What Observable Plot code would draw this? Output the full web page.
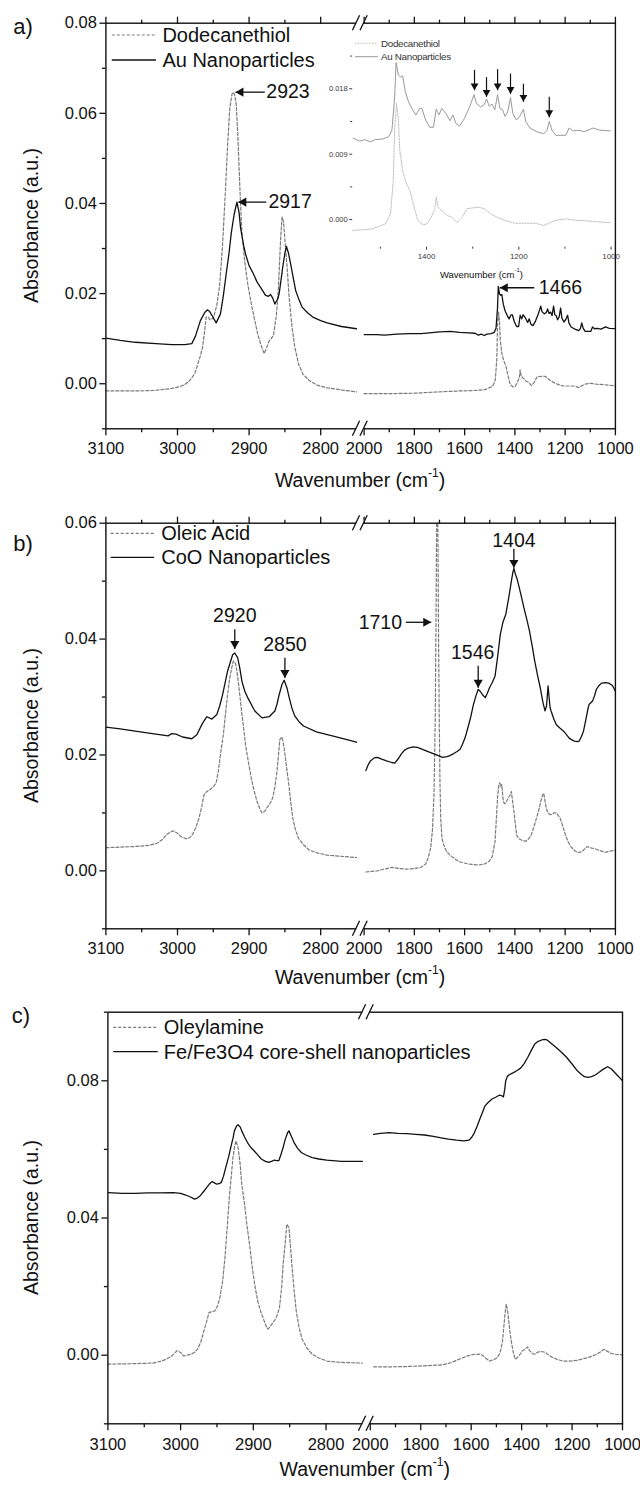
<!DOCTYPE html>
<html><head><meta charset="utf-8">
<script src="https://cdn.jsdelivr.net/npm/d3@7"></script>
<script src="https://cdn.jsdelivr.net/npm/@observablehq/plot@0.6"></script>
<style>
body{margin:0;background:#fff;}
#wrap{position:relative;width:640px;height:1487px;overflow:hidden;}
#wrap svg{position:absolute;left:0;}
</style></head><body><div id="wrap"></div>
<script>
// ---------------- DATA ----------------
const xMajorTicks = [3100, 3000, 2900, 2800, 2000, 1800, 1600, 1400, 1200, 1000];
const xMinorTicks = [3050, 2950, 2850, 1900, 1700, 1500, 1300, 1100];

// Panel a : Dodecanethiol (dashed) and Au nanoparticles (solid)
const aDdtWn = [3100,3060,3033,3010,2998,2990,2983,2976,2973,2968,2965,2962,2960,2957,2955,2950,2945,2941,2937,2933,2930,2927,2924,2922,2920,2918,2916,2914,2912,2910,2906,2902,2897,2892,2888,2884,2879,2876,2872,2869,2866,2862,2859,2856,2854,2852,2850,2847,2844,2840,2836,2831,2825,2816,2805,2791,2770,2750,
  2000,1900,1800,1700,1620,1559,1519,1489,1478,1472,1469,1465,1461,1458,1452,1445,1436,1429,1419,1408,1399,1390,1382,1379,1375,1368,1356,1345,1334,1323,1312,1301,1286,1275,1261,1246,1231,1209,1187,1165,1146,1135,1120,1098,1076,1046,1011,1000];
const aDdtAbs = [-0.0016,-0.0016,-0.0015,-0.0011,-0.0007,-0.0002,0.0007,0.0022,0.0037,0.0062,0.0081,0.0118,0.0148,0.0148,0.0142,0.0145,0.0175,0.0220,0.0310,0.0430,0.0530,0.0610,0.0642,0.0647,0.0640,0.0620,0.0560,0.0480,0.0400,0.0335,0.0270,0.0222,0.0178,0.0140,0.0110,0.0089,0.0067,0.0078,0.0095,0.0100,0.0108,0.0150,0.0214,0.0320,0.0370,0.0360,0.0320,0.0260,0.0190,0.0125,0.0080,0.0044,0.0022,0.0007,-0.0003,-0.0009,-0.0014,-0.0018,
  -0.0022,-0.0022,-0.0021,-0.0018,-0.0016,-0.0015,-0.0013,-0.0006,0.0008,0.0054,0.0128,0.0160,0.0137,0.0096,0.0068,0.0052,0.0040,0.0022,-0.0001,-0.0007,-0.0006,0.0003,0.0015,0.0031,0.0017,0.0013,0.0006,0.0003,-0.0004,0.0003,0.0015,0.0016,0.0017,0.0015,0.0008,0.0003,-0.0001,-0.0005,-0.0005,-0.0005,-0.0008,-0.0005,-0.0001,0.0001,-0.0001,-0.0002,-0.0004,-0.0004];
const aAuWn = [3100,3080,3059,3030,3008,2990,2980,2975,2968,2962,2958,2955,2952,2946,2940,2936,2932,2928,2925,2921,2917,2914,2912,2908,2905,2900,2894,2889,2884,2877,2873,2870,2867,2864,2860,2858,2855,2853,2850,2848,2845,2842,2838,2835,2830,2826,2818,2811,2800,2791,2771,2750,
  2000,1950,1919,1870,1820,1773,1740,1700,1656,1620,1583,1559,1545,1534,1522,1511,1495,1482,1475,1469,1466,1461,1456,1452,1446,1439,1430,1423,1415,1410,1402,1393,1385,1379,1373,1367,1358,1349,1343,1336,1328,1318,1306,1297,1292,1283,1275,1270,1264,1258,1252,1246,1241,1235,1230,1224,1218,1213,1205,1198,1190,1185,1176,1161,1146,1139,1134,1128,1120,1098,1091,1083,1072,1058,1039,1024,1000];
const aAuAbs = [0.0101,0.0096,0.0092,0.0089,0.0087,0.0087,0.0089,0.0105,0.0140,0.0158,0.0164,0.0160,0.0152,0.0135,0.0155,0.0195,0.0244,0.0290,0.0333,0.0375,0.0403,0.0380,0.0347,0.0310,0.0288,0.0262,0.0244,0.0226,0.0214,0.0196,0.0194,0.0198,0.0190,0.0177,0.0188,0.0200,0.0235,0.0259,0.0290,0.0305,0.0290,0.0266,0.0232,0.0207,0.0185,0.0170,0.0157,0.0148,0.0140,0.0135,0.0127,0.0122,
  0.0109,0.0109,0.0108,0.0110,0.0111,0.0111,0.0113,0.0115,0.0116,0.0114,0.0113,0.0112,0.0108,0.0110,0.0107,0.0110,0.0111,0.0114,0.0123,0.0169,0.0216,0.0199,0.0196,0.0198,0.0176,0.0162,0.0151,0.0144,0.0153,0.0153,0.0137,0.0127,0.0127,0.0152,0.0144,0.0153,0.0146,0.0136,0.0144,0.0132,0.0129,0.0139,0.0156,0.0172,0.0160,0.0155,0.0158,0.0166,0.0156,0.0159,0.0151,0.0172,0.0153,0.0151,0.0142,0.0148,0.0168,0.0146,0.0137,0.0142,0.0152,0.0135,0.0126,0.0121,0.0118,0.0123,0.0135,0.0123,0.0116,0.0116,0.0126,0.0122,0.0123,0.0121,0.0126,0.0123,0.0122];
const aAnnLabel = ["2923", "2917", "1466"];
const aAnnTipX = [2919, 2915, 1460];
const aAnnTailX = [2878, 2876, 1323];
const aAnnTextX = [2876, 2873, 1305];
const aAnnY = [0.0647, 0.0403, 0.0213];

// Inset (panel a, 1560-1000 cm-1)
const insetArrowX = [1296, 1270, 1246, 1218, 1190, 1134];
const insetArrowTip = [0.0178, 0.0169, 0.0178, 0.0173, 0.0162, 0.0141];
const insetArrowTop = [0.0206, 0.0196, 0.0207, 0.0201, 0.0187, 0.0169];

// Panel b : Oleic acid (dashed) and CoO nanoparticles (solid)
const bOaWn = [3100,3059,3040,3028,3020,3016,3010,3006,3000,2995,2987,2982,2978,2974,2970,2966,2963,2959,2955,2950,2946,2943,2940,2936,2933,2930,2927,2924,2922,2919,2917,2914,2911,2908,2905,2901,2897,2893,2889,2885,2882,2878,2874,2870,2867,2864,2861,2859,2857,2854,2851,2848,2845,2842,2839,2835,2831,2824,2816,2805,2791,2770,2750,
  1993,1970,1947,1920,1889,1860,1832,1800,1774,1755,1745,1735,1728,1722,1717,1714,1712,1709,1706,1704,1701,1698,1695,1690,1683,1677,1671,1660,1652,1640,1623,1605,1587,1565,1544,1520,1501,1490,1479,1473,1469,1464,1460,1456,1452,1448,1446,1441,1436,1431,1426,1420,1414,1409,1404,1398,1393,1385,1378,1367,1357,1346,1335,1325,1314,1305,1297,1290,1285,1280,1275,1271,1263,1256,1245,1235,1228,1220,1210,1199,1188,1177,1165,1153,1144,1134,1122,1112,1102,1091,1080,1069,1055,1040,1020,1000];
const bOaAbs = [0.0040,0.0042,0.0044,0.0048,0.0055,0.0062,0.0067,0.0069,0.0065,0.0059,0.0055,0.0058,0.0065,0.0076,0.0091,0.0112,0.0131,0.0137,0.0140,0.0145,0.0152,0.0172,0.0201,0.0235,0.0270,0.0305,0.0333,0.0352,0.0362,0.0358,0.0345,0.0315,0.0281,0.0250,0.0218,0.0188,0.0160,0.0138,0.0120,0.0107,0.0100,0.0103,0.0111,0.0118,0.0126,0.0145,0.0172,0.0200,0.0227,0.0231,0.0212,0.0182,0.0154,0.0120,0.0091,0.0070,0.0056,0.0045,0.0036,0.0031,0.0027,0.0025,0.0023,
  -0.0002,-0.0001,0.0000,0.0003,0.0006,0.0004,0.0003,0.0004,0.0006,0.0012,0.0022,0.0040,0.0070,0.0130,0.0260,0.0420,0.0560,0.0700,0.0560,0.0420,0.0260,0.0150,0.0090,0.0055,0.0045,0.0038,0.0033,0.0028,0.0025,0.0021,0.0016,0.0014,0.0012,0.0011,0.0010,0.0012,0.0017,0.0025,0.0051,0.0095,0.0126,0.0148,0.0152,0.0145,0.0149,0.0128,0.0120,0.0116,0.0117,0.0122,0.0126,0.0130,0.0137,0.0120,0.0103,0.0080,0.0062,0.0056,0.0054,0.0052,0.0051,0.0055,0.0062,0.0075,0.0091,0.0105,0.0120,0.0130,0.0134,0.0120,0.0108,0.0103,0.0098,0.0097,0.0100,0.0100,0.0096,0.0091,0.0078,0.0062,0.0050,0.0042,0.0036,0.0032,0.0032,0.0033,0.0038,0.0042,0.0040,0.0039,0.0038,0.0036,0.0034,0.0032,0.0034,0.0036];
const bCoWn = [3100,3080,3059,3035,3013,3008,3002,2993,2980,2973,2965,2959,2952,2945,2941,2937,2930,2923,2920,2916,2913,2910,2906,2902,2892,2882,2872,2864,2861,2858,2854,2851,2847,2844,2840,2836,2830,2824,2806,2781,2750,
  1993,1985,1976,1960,1947,1930,1911,1890,1878,1865,1853,1840,1824,1805,1788,1770,1753,1735,1717,1700,1688,1670,1659,1645,1630,1618,1609,1598,1587,1576,1565,1555,1546,1538,1529,1518,1510,1501,1490,1479,1470,1458,1447,1436,1425,1414,1408,1404,1398,1392,1386,1375,1364,1353,1342,1331,1321,1310,1299,1288,1280,1274,1268,1264,1260,1256,1245,1235,1220,1206,1195,1184,1173,1163,1150,1144,1135,1127,1118,1110,1105,1098,1091,1083,1076,1065,1055,1040,1026,1012,1000];
const bCoAbs = [0.0248,0.0245,0.0241,0.0237,0.0233,0.0237,0.0236,0.0231,0.0228,0.0235,0.0255,0.0266,0.0262,0.0270,0.0285,0.0304,0.0345,0.0373,0.0376,0.0368,0.0350,0.0327,0.0310,0.0299,0.0276,0.0264,0.0266,0.0276,0.0288,0.0304,0.0322,0.0329,0.0315,0.0299,0.0280,0.0267,0.0257,0.0250,0.0240,0.0232,0.0222,
  0.0173,0.0182,0.0189,0.0195,0.0196,0.0193,0.0190,0.0187,0.0186,0.0193,0.0201,0.0208,0.0212,0.0214,0.0213,0.0210,0.0207,0.0204,0.0201,0.0198,0.0196,0.0197,0.0199,0.0202,0.0206,0.0210,0.0218,0.0230,0.0247,0.0265,0.0287,0.0302,0.0313,0.0310,0.0304,0.0299,0.0306,0.0316,0.0325,0.0336,0.0365,0.0408,0.0430,0.0443,0.0470,0.0500,0.0515,0.0522,0.0512,0.0505,0.0495,0.0475,0.0454,0.0435,0.0414,0.0388,0.0362,0.0338,0.0316,0.0290,0.0276,0.0285,0.0319,0.0300,0.0282,0.0276,0.0262,0.0252,0.0246,0.0241,0.0235,0.0229,0.0226,0.0224,0.0223,0.0224,0.0232,0.0241,0.0260,0.0278,0.0287,0.0290,0.0293,0.0302,0.0313,0.0320,0.0324,0.0325,0.0324,0.0320,0.0310];
const bAnnLabel = ["2920", "2850", "1404", "1546"];
const bAnnX = [2920, 2850, 1404, 1546];
const bAnnTextX = [2920, 2850, 1404, 1568];
const bAnnTipY = [0.0383, 0.0333, 0.0523, 0.0316];
const bAnnTailY = [0.0417, 0.0368, 0.0556, 0.0354];
const bAnnTextY = [0.0440, 0.0391, 0.0570, 0.0377];
const bSideLabel = ["1710"];
const bSideTipX = [1733];
const bSideTailX = [1834];
const bSideTextX = [1849];
const bSideY = [0.0429];

// Panel c : Oleylamine (dashed) and Fe/Fe3O4 core-shell nanoparticles (solid)
const cOlWn = [3100,3070,3038,3028,3020,3012,3005,3000,2996,2991,2986,2981,2977,2972,2968,2964,2961,2957,2953,2949,2946,2942,2939,2936,2933,2930,2928,2926,2924,2921,2918,2916,2912,2909,2905,2902,2898,2894,2890,2886,2883,2880,2877,2874,2870,2868,2864,2861,2859,2856,2854,2851,2849,2847,2844,2841,2837,2833,2826,2819,2810,2799,2780,2750,
  1987,1920,1855,1785,1714,1680,1658,1635,1615,1590,1566,1555,1545,1528,1510,1497,1488,1482,1476,1472,1466,1461,1456,1451,1445,1439,1432,1425,1418,1411,1404,1397,1386,1376,1369,1362,1355,1348,1338,1327,1316,1306,1292,1277,1256,1235,1207,1179,1158,1137,1118,1101,1087,1073,1059,1045,1022,1000];
const cOlAbs = [-0.0026,-0.0025,-0.0023,-0.0018,-0.0012,-0.0002,0.0013,0.0008,-0.0002,0.0000,0.0003,0.0008,0.0017,0.0040,0.0071,0.0100,0.0124,0.0127,0.0129,0.0145,0.0168,0.0220,0.0285,0.0370,0.0460,0.0530,0.0576,0.0605,0.0625,0.0606,0.0555,0.0499,0.0440,0.0382,0.0320,0.0265,0.0205,0.0158,0.0128,0.0105,0.0088,0.0076,0.0083,0.0092,0.0104,0.0112,0.0139,0.0200,0.0265,0.0330,0.0382,0.0372,0.0320,0.0265,0.0190,0.0129,0.0080,0.0047,0.0020,0.0003,-0.0008,-0.0017,-0.0021,-0.0023,
  -0.0034,-0.0034,-0.0033,-0.0031,-0.0028,-0.0022,-0.0015,-0.0008,-0.0002,0.0002,0.0003,0.0000,-0.0007,-0.0017,-0.0013,-0.0007,0.0003,0.0017,0.0040,0.0071,0.0120,0.0149,0.0130,0.0100,0.0060,0.0032,0.0005,-0.0012,-0.0008,-0.0002,0.0005,0.0013,0.0018,0.0024,0.0014,0.0008,0.0004,0.0003,0.0008,0.0011,0.0010,0.0008,0.0000,-0.0007,-0.0013,-0.0017,-0.0017,-0.0015,-0.0011,-0.0007,-0.0002,0.0003,0.0010,0.0017,0.0011,0.0005,0.0002,0.0001];
const cFeWn = [3100,3080,3063,3045,3028,3010,3000,2993,2987,2981,2977,2973,2968,2964,2960,2957,2954,2951,2947,2944,2941,2938,2934,2931,2928,2926,2923,2921,2918,2916,2912,2908,2904,2899,2894,2889,2884,2879,2875,2871,2868,2865,2862,2859,2856,2853,2851,2848,2844,2839,2834,2827,2819,2810,2799,2779,2750,
  1987,1960,1925,1890,1855,1820,1785,1750,1714,1690,1658,1630,1608,1597,1587,1576,1566,1555,1545,1531,1517,1503,1489,1480,1472,1467,1463,1458,1454,1443,1432,1418,1404,1390,1376,1362,1348,1334,1320,1310,1299,1281,1263,1242,1221,1200,1179,1165,1151,1137,1123,1108,1094,1076,1059,1045,1031,1015,1000];
const cFeAbs = [0.0474,0.0472,0.0472,0.0473,0.0473,0.0474,0.0472,0.0467,0.0462,0.0455,0.0458,0.0465,0.0478,0.0489,0.0500,0.0506,0.0503,0.0499,0.0500,0.0504,0.0522,0.0547,0.0578,0.0606,0.0632,0.0654,0.0668,0.0672,0.0665,0.0654,0.0636,0.0620,0.0607,0.0596,0.0584,0.0572,0.0566,0.0562,0.0565,0.0569,0.0567,0.0567,0.0585,0.0606,0.0630,0.0648,0.0654,0.0640,0.0620,0.0603,0.0591,0.0583,0.0576,0.0572,0.0569,0.0565,0.0565,
  0.0644,0.0647,0.0649,0.0647,0.0646,0.0644,0.0642,0.0638,0.0633,0.0630,0.0627,0.0625,0.0627,0.0636,0.0649,0.0668,0.0688,0.0708,0.0727,0.0738,0.0747,0.0752,0.0758,0.0757,0.0753,0.0775,0.0800,0.0810,0.0815,0.0820,0.0824,0.0830,0.0837,0.0850,0.0868,0.0888,0.0907,0.0915,0.0919,0.0921,0.0919,0.0908,0.0897,0.0883,0.0868,0.0849,0.0829,0.0820,0.0812,0.0810,0.0812,0.0817,0.0824,0.0834,0.0841,0.0835,0.0824,0.0812,0.0800];

// ---------------- DRAWING ----------------
const FONT = '"Liberation Sans", Arial, Helvetica, sans-serif';
const INK = "#111";
const DASH_COL = "#7a7a7a";
const TICK_FS = 16.5;
const wrap = document.getElementById("wrap");

function toRows(wn, ab) {
  return wn.map((w, i) => ({wn: w, ab: ab[i], seg: w > 2400 ? "L" : "R"}));
}
function zipRows(obj) {
  const keys = Object.keys(obj);
  return obj[keys[0]].map((_, i) => Object.fromEntries(keys.map(k => [k, obj[k][i]])));
}

function addAxisTitle(svg, cx, cy, size) {
  const t = svg.append("text").attr("x", cx).attr("y", cy)
    .attr("text-anchor", "middle").attr("dominant-baseline", "central")
    .attr("font-family", FONT).attr("font-size", size).attr("fill", INK);
  t.append("tspan").text("Wavenumber (cm");
  t.append("tspan").attr("font-size", size * 0.62).attr("dy", -size * 0.38).text("-1");
  t.append("tspan").attr("dy", size * 0.38).text(")");
}

function addBreak(svg, xb, ys) {
  for (const y of ys) {
    svg.append("rect").attr("x", xb - 3.6).attr("y", y - 2.5).attr("width", 7.2).attr("height", 5).attr("fill", "#fff");
    for (const c of [xb - 3.8, xb + 3.8]) {
      svg.append("line").attr("x1", c - 3.6).attr("y1", y + 7.5).attr("x2", c + 3.6).attr("y2", y - 7.5)
        .attr("stroke", INK).attr("stroke-width", 1.3);
    }
  }
}

function addLegend(svg, items, size) {
  for (const it of items) {
    svg.append("line").attr("x1", it.x1).attr("x2", it.x2).attr("y1", it.y).attr("y2", it.y)
      .attr("stroke", it.stroke).attr("stroke-width", it.sw).attr("stroke-dasharray", it.dash || null);
    svg.append("text").attr("x", it.tx).attr("y", it.y).attr("dominant-baseline", "central")
      .attr("text-anchor", "start")
      .attr("font-family", FONT).attr("font-size", size).attr("fill", it.color || INK)
      .attr("letter-spacing", it.ls || null).text(it.text);
  }
}

function makePanel(p) {
  const marks = [];
  for (const s of p.series) {
    marks.push(Plot.line(toRows(s.wn, s.ab), {
      x: "wn", y: "ab", z: "seg", stroke: s.stroke, strokeWidth: s.sw,
      strokeDasharray: s.dash, clip: true
    }));
  }
  marks.push(Plot.frame({stroke: INK, strokeWidth: 1.4}));
  marks.push(Plot.axisY({ticks: p.yMajor, tickSize: 6, tickPadding: 3, tickFormat: d3.format(".2f"), fontSize: TICK_FS, label: null, strokeWidth: 1.3}));
  marks.push(Plot.axisY({ticks: p.yMinor, tickSize: 3.5, tickFormat: () => "", label: null, strokeWidth: 1.3}));
  marks.push(Plot.axisX({anchor: "bottom", ticks: xMajorTicks, tickSize: 7, tickPadding: p.tickPad, tickFormat: d => String(d), fontSize: TICK_FS, label: null, strokeWidth: 1.3}));
  marks.push(Plot.axisX({anchor: "bottom", ticks: xMinorTicks, tickSize: 4, tickFormat: () => "", label: null, strokeWidth: 1.3}));
  if (p.topTicks) {
    marks.push(Plot.axisX({anchor: "top", ticks: xMajorTicks, tickSize: 7, tickFormat: () => "", label: null, strokeWidth: 1.3}));
    marks.push(Plot.axisX({anchor: "top", ticks: xMinorTicks, tickSize: 4, tickFormat: () => "", label: null, strokeWidth: 1.3}));
  }
  if (p.marks) marks.push(...p.marks);
  const chart = Plot.plot({
    width: 640, height: p.height,
    marginLeft: p.xRange[0], marginRight: 640 - p.xRange[3],
    marginTop: p.mt, marginBottom: p.mb,
    x: {type: "linear", domain: [3100, 2750, 2000, 1000], range: p.xRange},
    y: {domain: p.yDomain},
    style: {fontFamily: FONT, fontSize: "17px", color: INK, background: "transparent", overflow: "visible"},
    marks
  });
  chart.style.top = p.top + "px";
  wrap.appendChild(chart);
  const sx = chart.scale("x");
  const svg = d3.select(chart);
  const x0 = p.xRange[0], x1 = p.xRange[3];
  const yTop = p.mt, yBot = p.height - p.mb;
  const xb = (sx.apply(2750) + sx.apply(2000)) / 2;
  addBreak(svg, xb, [yTop, yBot]);
  addAxisTitle(svg, (x0 + x1) / 2, p.titleY, 19.5);
  svg.append("text").attr("transform", `translate(31,${(yTop + yBot) / 2}) rotate(-90)`)
    .attr("text-anchor", "middle").attr("dominant-baseline", "central")
    .attr("font-family", FONT).attr("font-size", 19.5).attr("fill", INK).text("Absorbance (a.u.)");
  svg.append("text").attr("x", p.letterX).attr("y", p.letterY).attr("text-anchor", "middle")
    .attr("dominant-baseline", "central").attr("font-family", FONT).attr("font-size", 22).attr("fill", INK).text(p.letter);
  addLegend(svg, p.legend, 20);
  return chart;
}

const solid = (wn, ab) => ({wn, ab, stroke: INK, sw: 1.3});
const dashed = (wn, ab) => ({wn, ab, stroke: DASH_COL, sw: 1.2, dash: "3,2"});

function leftArrows(labels, tipX, tailX, textX, ys, r) {
  const rows = zipRows({label: labels, tipX, tailX, textX, y: ys});
  const off = Math.sqrt(Math.PI * r * r / (Math.sqrt(3) * 3)) * 2;
  return [
    Plot.link(rows, {x1: "tailX", y1: "y", x2: "tipX", y2: "y", stroke: INK, strokeWidth: 1.3}),
    Plot.dot(rows, {x: "tipX", y: "y", symbol: "triangle", r, fill: INK, rotate: -90, dx: off}),
    Plot.text(rows, {x: "textX", y: "y", text: "label", textAnchor: "start", fontSize: 19.5, fill: INK})
  ];
}

// Panel a
makePanel({
  top: 0, height: 500, mt: 22.7, mb: 71.7, xRange: [105.4, 356, 363.6, 614.9],
  yDomain: [-0.01, 0.08], yMajor: [0, 0.02, 0.04, 0.06, 0.08], yMinor: [-0.01, 0.01, 0.03, 0.05, 0.07],
  tickPad: 6.5, topTicks: true, titleY: 480, letter: "a)", letterX: 23, letterY: 26,
  series: [dashed(aDdtWn, aDdtAbs), solid(aAuWn, aAuAbs)],
  marks: leftArrows(aAnnLabel, aAnnTipX, aAnnTailX, aAnnTextX, aAnnY, 3.4),
  legend: [
    {x1: 111.8, x2: 155.9, y: 35, tx: 162.4, text: "Dodecanethiol", stroke: DASH_COL, sw: 1.2, dash: "3,2"},
    {x1: 111.8, x2: 155.9, y: 60, tx: 162.4, text: "Au Nanoparticles", stroke: INK, sw: 1.3}
  ]
});

// Inset in panel a
(function () {
  const lim = 1560;
  const au = toRows(aAuWn, aAuAbs).filter(d => d.wn <= lim);
  const ddt = toRows(aDdtWn, aDdtAbs).filter(d => d.wn <= lim);
  const arrows = zipRows({x: insetArrowX, tip: insetArrowTip, top: insetArrowTop});
  const r = 2.9;
  const off = Math.sqrt(Math.PI * r * r / (Math.sqrt(3) * 3)) * 2;
  const inset = Plot.plot({
    width: 640, height: 300,
    marginLeft: 352.2, marginRight: 640 - 610.6, marginTop: 36.7, marginBottom: 300 - 246.7,
    x: {domain: [1560, 1000]}, y: {domain: [-0.0038, 0.0251]},
    style: {fontFamily: FONT, color: "#3a3a3a", background: "transparent", overflow: "visible"},
    marks: [
      Plot.line(ddt, {x: "wn", y: "ab", stroke: "#bdbdbd", strokeWidth: 1, strokeDasharray: "1.5,1.3", clip: true}),
      Plot.line(au, {x: "wn", y: "ab", stroke: "#999", strokeWidth: 1, clip: true}),
      Plot.axisY({ticks: [0, 0.009, 0.018], tickSize: 3, tickPadding: 2, tickFormat: d3.format(".3f"), fontSize: 7.5, line: true, label: null}),
      Plot.axisY({ticks: [0.0045, 0.0135, 0.0225], tickSize: 2, tickFormat: () => "", label: null}),
      Plot.axisX({ticks: [1400, 1200, 1000], tickSize: 3, tickPadding: 3, tickFormat: d => String(d), fontSize: 8, line: true, label: null}),
      Plot.axisX({ticks: [1500, 1300, 1100], tickSize: 2, tickFormat: () => "", label: null}),
      Plot.link(arrows, {x1: "x", x2: "x", y1: "top", y2: "tip", stroke: INK, strokeWidth: 1.2}),
      Plot.dot(arrows, {x: "x", y: "tip", symbol: "triangle", r, fill: INK, rotate: 180, dy: -off})
    ]
  });
  inset.style.top = "0px";
  wrap.appendChild(inset);
  const svg = d3.select(inset);
  addAxisTitle(svg, 481.4, 274, 9.5);
  addLegend(svg, [
    {x1: 355, x2: 378, y: 43.3, tx: 381, text: "Dodecanethiol", stroke: "#bdbdbd", sw: 1, dash: "1.5,1.3", color: "#333", ls: "-0.3px"},
    {x1: 355, x2: 378, y: 56.7, tx: 381, text: "Au Nanoparticles", stroke: "#999", sw: 1, color: "#333", ls: "-0.3px"}
  ], 9.8);
})();

// Panel b
(function () {
  const down = zipRows({label: bAnnLabel, x: bAnnX, tx: bAnnTextX, tip: bAnnTipY, tail: bAnnTailY, ty: bAnnTextY});
  const side = zipRows({label: bSideLabel, tipX: bSideTipX, tailX: bSideTailX, textX: bSideTextX, y: bSideY});
  const r = 3.4;
  const off = Math.sqrt(Math.PI * r * r / (Math.sqrt(3) * 3)) * 2;
  makePanel({
    top: 495, height: 495, mt: 27.7, mb: 61.7, xRange: [105.4, 356, 363.6, 614.9],
    yDomain: [-0.01, 0.06], yMajor: [0, 0.02, 0.04, 0.06], yMinor: [-0.01, 0.01, 0.03, 0.05],
    tickPad: 6.5, topTicks: true, titleY: 482, letter: "b)", letterX: 23, letterY: 48,
    series: [dashed(bOaWn, bOaAbs), solid(bCoWn, bCoAbs)],
    marks: [
      Plot.link(down, {x1: "x", x2: "x", y1: "tail", y2: "tip", stroke: INK, strokeWidth: 1.3}),
      Plot.dot(down, {x: "x", y: "tip", symbol: "triangle", r, fill: INK, rotate: 180, dy: -off}),
      Plot.text(down, {x: "tx", y: "ty", text: "label", textAnchor: "middle", fontSize: 19.5, fill: INK}),
      Plot.link(side, {x1: "tailX", y1: "y", x2: "tipX", y2: "y", stroke: INK, strokeWidth: 1.3}),
      Plot.dot(side, {x: "tipX", y: "y", symbol: "triangle", r, fill: INK, rotate: 90, dx: -off}),
      Plot.text(side, {x: "textX", y: "y", text: "label", textAnchor: "end", fontSize: 19.5, fill: INK})
    ],
    legend: [
      {x1: 110.7, x2: 154.1, y: 38.3, tx: 161.3, text: "Oleic Acid", stroke: DASH_COL, sw: 1.2, dash: "3,2"},
      {x1: 110.7, x2: 154.1, y: 62.3, tx: 161.3, text: "CoO Nanoparticles", stroke: INK, sw: 1.3}
    ]
  });
})();

// Panel c
makePanel({
  top: 990, height: 497, mt: 21.7, mb: 63.7, xRange: [107.4, 361.9, 369.8, 622],
  yDomain: [-0.02, 0.10], yMajor: [0, 0.04, 0.08], yMinor: [-0.02, 0.02, 0.06, 0.10],
  tickPad: 7, topTicks: false, titleY: 479, letter: "c)", letterX: 21, letterY: 25,
  series: [dashed(cOlWn, cOlAbs), solid(cFeWn, cFeAbs)],
  legend: [
    {x1: 113.2, x2: 157.7, y: 37.3, tx: 163.8, text: "Oleylamine", stroke: DASH_COL, sw: 1.2, dash: "3,2"},
    {x1: 113.2, x2: 157.7, y: 61.7, tx: 163.8, text: "Fe/Fe3O4 core-shell nanoparticles", stroke: INK, sw: 1.3}
  ]
});
</script></body></html>
